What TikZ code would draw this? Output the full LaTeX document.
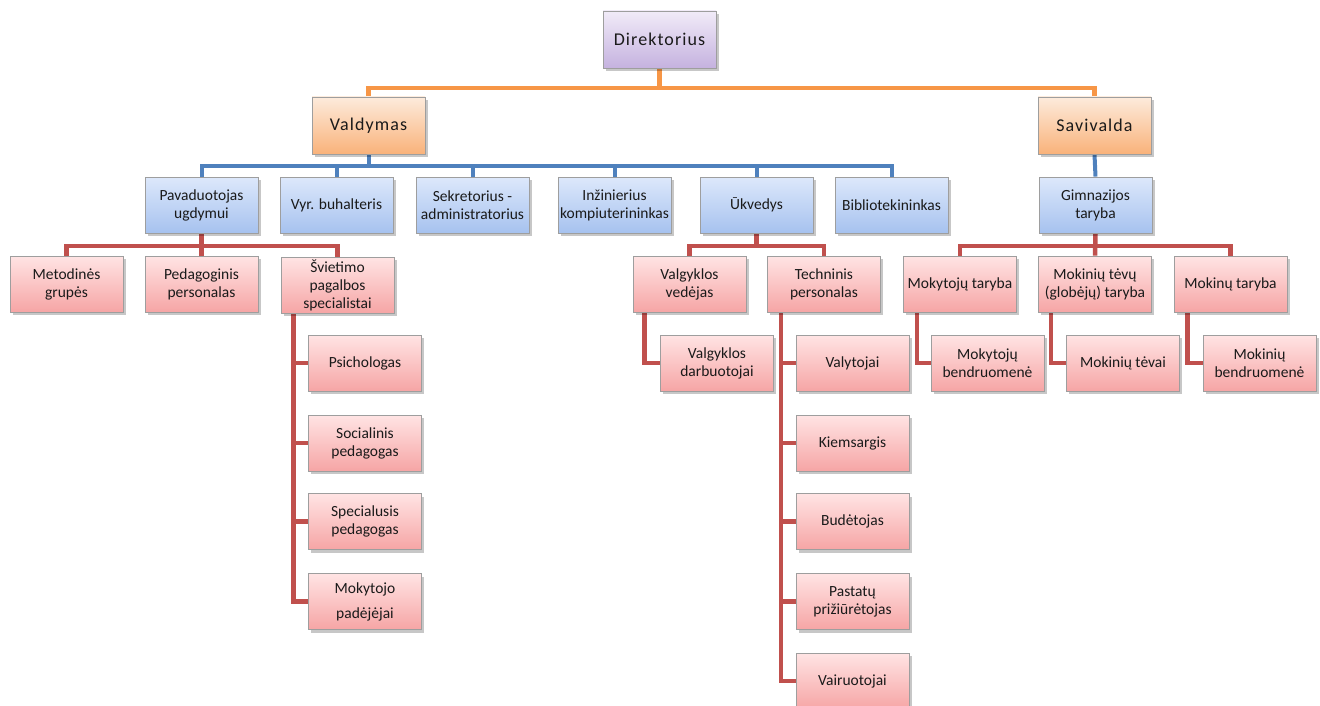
\documentclass[tikz,border=0pt]{standalone}
\usepackage{fontspec}
\setmainfont{Carlito}
\newfontfamily\spacedfont[LetterSpace=6]{Carlito}
\usetikzlibrary{shadows,backgrounds}
\definecolor{pTop}{HTML}{F1EBF8}
\definecolor{pBot}{HTML}{C5B2DF}
\definecolor{oTop}{HTML}{FDEBDC}
\definecolor{oBot}{HTML}{F9B27A}
\definecolor{bTop}{HTML}{DDE8FB}
\definecolor{bBot}{HTML}{A6C2EF}
\definecolor{rTop}{HTML}{FFE4E4}
\definecolor{rBot}{HTML}{F6A5A5}
\definecolor{oLine}{HTML}{F79646}
\definecolor{bLine}{HTML}{4F81BD}
\definecolor{rLine}{HTML}{C0504D}
\definecolor{txt}{HTML}{1A1A1A}
\begin{document}
\begin{tikzpicture}[x=1pt,y=-1pt,
  box/.style={draw=black!38, line width=0.9pt, minimum width=113pt, minimum height=56pt,
    inner sep=2pt, align=center, text=txt, font=\fontsize{15.5}{18}\selectfont,
    drop shadow={shadow xshift=2.5pt, shadow yshift=-3pt, fill=black, opacity=0.22}},
  pbox/.style={box, minimum height=57pt, top color=pTop, bottom color=pBot, font=\spacedfont\fontsize{18}{20}\selectfont},
  obox/.style={box, minimum height=57pt, top color=oTop, bottom color=oBot, font=\spacedfont\fontsize{18}{20}\selectfont},
  bbox/.style={box, top color=bTop, bottom color=bBot},
  rbox/.style={box, top color=rTop, bottom color=rBot},
  oconn/.style={draw=oLine, line width=4.5pt},
  bconn/.style={draw=bLine, line width=4pt},
  rconn/.style={draw=rLine, line width=4.5pt}
]
\useasboundingbox (0,0) rectangle (1320,706);

% level 0/1
\node[pbox] (dir) at (659.5,39.5) {Direktorius};
\node[obox] (val) at (368.5,125.5) {Valdymas};
\node[obox] (sav) at (1094.5,125.5) {Savivalda};

% blue row
\node[bbox] (pav) at (201.5,205) {Pavaduotojas\\ugdymui};
\node[bbox] (vyr) at (336.5,205) {Vyr. buhalteris};
\node[bbox] (sek) at (472.5,205) {Sekretorius -\\administratorius};
\node[bbox] (inz) at (614.5,205) {Inžinierius\\kompiuterininkas};
\node[bbox] (ukv) at (756.5,205) {Ūkvedys};
\node[bbox] (bib) at (891.5,205) {Bibliotekininkas};
\node[bbox] (gim) at (1095.5,205) {Gimnazijos\\taryba};

% red row
\node[rbox] (met) at (66.5,284) {Metodinės\\grupės};
\node[rbox] (ped) at (201.5,284) {Pedagoginis\\personalas};
\node[rbox] (svi) at (337.5,285) {Švietimo\\pagalbos\\specialistai};
\node[rbox] (vve) at (689.5,284) {Valgyklos\\vedėjas};
\node[rbox] (tec) at (824,284) {Techninis\\personalas};
\node[rbox] (mtar) at (960,284) {Mokytojų taryba};
\node[rbox] (mtt) at (1095,284) {Mokinių tėvų\\(globėjų) taryba};
\node[rbox] (mkt) at (1230.5,284) {Mokinų taryba};

% third level
\node[rbox] (psi) at (365,363) {Psichologas};
\node[rbox] (soc) at (365,443) {Socialinis\\pedagogas};
\node[rbox] (spe) at (365,521.5) {Specialusis\\pedagogas};
\node[rbox] (mpa) at (365,601.5) {Mokytojo\\[7pt]padėjėjai};
\node[rbox] (vda) at (717,363) {Valgyklos\\darbuotojai};
\node[rbox] (vly) at (852.5,363) {Valytojai};
\node[rbox] (kie) at (852.5,443) {Kiemsargis};
\node[rbox] (bud) at (852.5,521.5) {Budėtojas};
\node[rbox] (pas) at (852.5,601.5) {Pastatų\\prižiūrėtojas};
\node[rbox] (vai) at (852.5,681) {Vairuotojai};
\node[rbox] (mbe) at (987.5,363) {Mokytojų\\bendruomenė};
\node[rbox] (mte) at (1123,363) {Mokinių tėvai};
\node[rbox] (mkb) at (1259.5,363) {Mokinių\\bendruomenė};

\coordinate (obus) at (0,88);
\coordinate (bbus) at (0,166);
\coordinate (rbus) at (0,246);

\begin{scope}[on background layer]
  % orange
  \draw[oconn] (val.north) -- (val.north |- obus) -| (sav.north);
  \draw[oconn] (dir.south) -- (dir.south |- obus);
  % blue
  \draw[bconn] (pav.north) -- (pav.north |- bbus) -| (bib.north);
  \draw[bconn] (val.south) -- (val.south |- bbus);
  \foreach \n in {vyr,sek,inz,ukv}
    \draw[bconn] (\n.north) -- (\n.north |- bbus);
  \draw[bconn] (sav.south) -- (gim.north);
  % red buses
  \draw[rconn] (met.north) -- (met.north |- rbus) -| (svi.north);
  \draw[rconn] (pav.south) -- (ped.north);
  \draw[rconn] (vve.north) -- (vve.north |- rbus) -| (tec.north);
  \draw[rconn] (ukv.south) -- (ukv.south |- rbus);
  \draw[rconn] (mtar.north) -- (mtar.north |- rbus) -| (mkt.north);
  \draw[rconn] (gim.south) -- (mtt.north);
  % side branches
  \foreach \c in {psi,soc,spe,mpa}
    \draw[rconn] ([xshift=13pt]svi.south west) |- (\c.west);
  \draw[rconn] ([xshift=12pt]vve.south west) |- (vda.west);
  \foreach \c in {vly,kie,bud,pas,vai}
    \draw[rconn] ([xshift=14pt]tec.south west) |- (\c.west);
  \draw[rconn] ([xshift=14pt]mtar.south west) |- (mbe.west);
  \draw[rconn] ([xshift=13pt]mtt.south west) |- (mte.west);
  \draw[rconn] ([xshift=14pt]mkt.south west) |- (mkb.west);
\end{scope}
\end{tikzpicture}
\end{document}
